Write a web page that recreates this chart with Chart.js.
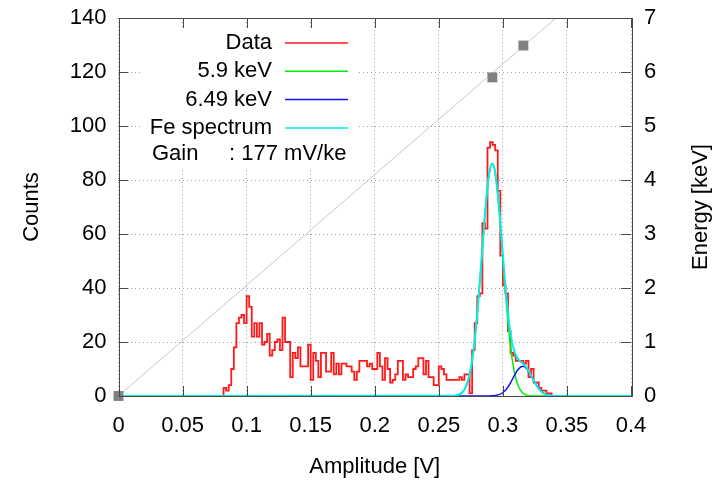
<!DOCTYPE html>
<html>
<head>
<meta charset="utf-8">
<title>Fe-55 spectrum</title>
<script src="https://cdn.jsdelivr.net/npm/chart.js@4.4.1/dist/chart.umd.min.js"></script>
<style>
  html, body { margin: 0; padding: 0; background: #fff; }
  #wrap { width: 714px; height: 482px; }
</style>
</head>
<body>
<div id="wrap"><canvas id="spec" width="714" height="482"></canvas></div>
<script>
// Fe-55 amplitude spectrum with two gaussian fits + energy calibration (gnuplot look).

// histogram: left edge of first filled bin, bin width [V], counts per bin
const HIST_START = 0.082;
const BIN_W = 0.002;
const counts = [
  3, 2, 4, 10, 18, 27, 29, 30, 27, 37,
  33, 22, 27, 22, 27, 19, 20, 23, 15, 17,
  20, 21, 17, 29, 20, 20, 7, 16, 14, 18,
  11, 11, 11, 19, 6, 16, 13, 7, 16, 16,
  9, 9, 16, 8, 12, 8, 12, 12, 11, 11,
  9, 6, 9, 13, 13, 13, 11, 12, 10, 10,
  16, 11, 6, 14, 10, 5, 6, 8, 13, 13,
  6, 8, 7, 7, 10, 11, 14, 14, 8, 13,
  7, 7, 4, 4, 11, 10, 8, 6, 6, 6,
  6, 6, 7, 6, 8, 8, 1, 17, 27, 37,
  38, 64, 62, 92, 94, 93, 91, 76, 52, 41,
  38, 24, 16, 15, 13, 13, 13, 12, 13, 7,
  10, 5, 5, 3, 2, 2, 1, 1,
];

// fitted curves
const fitX   = [0, 0.262, 0.265, 0.268, 0.271, 0.274, 0.277, 0.280, 0.283, 0.286, 0.289, 0.2917, 0.294, 0.297, 0.300, 0.303, 0.306, 0.309, 0.312, 0.3155, 0.318, 0.321, 0.324, 0.327, 0.330, 0.333, 0.336, 0.340, 0.345, 0.4];
const fit59  = [0, 0.1, 0.4, 1.2, 3.3, 7.9, 16.5, 30.4, 48.3, 67.1, 81.3, 86.0, 82.6, 69.4, 50.9, 32.5, 18.1, 8.8, 3.7, 1.1, 0.4, 0.1, 0, 0, 0, 0, 0, 0, 0, 0];
const fit649 = [0, 0, 0, 0, 0, 0, 0, 0, 0, 0, 0, 0.1, 0.2, 0.5, 1.3, 2.7, 4.9, 7.6, 9.9, 11.0, 10.4, 8.4, 5.8, 3.4, 1.7, 0.7, 0.3, 0.05, 0, 0];
const fitFe  = [0, 0.1, 0.4, 1.2, 3.3, 7.9, 16.5, 30.4, 48.3, 67.1, 81.3, 86.1, 82.8, 69.9, 52.2, 35.2, 23.0, 16.4, 13.6, 12.1, 10.8, 8.5, 5.8, 3.4, 1.7, 0.7, 0.3, 0.05, 0, 0];

// energy calibration points (right axis) and the linear fit through them
const calAmp = [0, 0.2918, 0.3160];
const calE = [0, 5.9, 6.49];
const calLineAmp = [0, 0.4];
const calLineE = [0, 8.2];

// axes
const xTicks = [0, 0.05, 0.1, 0.15, 0.2, 0.25, 0.3, 0.35, 0.4];
const xTickLabels = ['0', '0.05', '0.1', '0.15', '0.2', '0.25', '0.3', '0.35', '0.4'];
const yTicks = [0, 20, 40, 60, 80, 100, 120, 140];
const y2Ticks = [0, 1, 2, 3, 4, 5, 6, 7];
const y2Title = 'Energy [keV]';
const keyLabels = ['Data', '5.9 keV', '6.49 keV', 'Fe spectrum'];
const gainText = 'Gain     : 177 mV/ke';

const FAMILY = "'Liberation Sans', Arial, Helvetica, sans-serif";
const FONT = { family: FAMILY, size: 22 };
const FONT_CSS = `22px ${FAMILY}`;
const INK = '#000000';
const FRAME = '#4a4a4a';
const GRID = '#a0a0a0';
const TICK_LEN = 10;

// key geometry (gnuplot "key left top", no box)
const KEY = { textRight: 272, lineFrom: 285, lineTo: 348, firstRow: 43, rowStep: 28.3, gainX: 152 };

const histPts = [{ x: HIST_START - BIN_W, y: 0 }];
counts.forEach((c, i) => histPts.push({ x: HIST_START + i * BIN_W, y: c }));
histPts.push({ x: HIST_START + counts.length * BIN_W, y: 0 });

const pairs = (xs, ys) => xs.map((x, i) => ({ x, y: ys[i] }));

const gnuplotFrame = {
  id: 'gnuplotFrame',
  beforeDatasetsDraw(chart) {
    // key area is opaque: hides the grid behind it
    const ctx = chart.ctx;
    ctx.save();
    ctx.fillStyle = '#ffffff';
    ctx.fillRect(140, 29, 218, 140);
    ctx.restore();
  },
  afterDatasetsDraw(chart) {
    const { ctx, chartArea: a, scales } = chart;
    ctx.save();
    ctx.strokeStyle = FRAME;
    ctx.lineWidth = 1;
    ctx.beginPath();
    // inward tics, mirrored on top
    for (const v of xTicks) {
      const px = Math.round(scales.x.getPixelForValue(v)) + 0.5;
      ctx.moveTo(px, a.bottom); ctx.lineTo(px, a.bottom - TICK_LEN);
      ctx.moveTo(px, a.top); ctx.lineTo(px, a.top + TICK_LEN);
    }
    for (const v of yTicks) {
      const py = Math.round(scales.y.getPixelForValue(v)) + 0.5;
      ctx.moveTo(a.left, py); ctx.lineTo(a.left + TICK_LEN, py);
    }
    for (const v of y2Ticks) {
      const py = Math.round(scales.y2.getPixelForValue(v)) + 0.5;
      ctx.moveTo(a.right, py); ctx.lineTo(a.right - TICK_LEN, py);
    }
    ctx.stroke();
    ctx.strokeRect(Math.round(a.left) + 0.5, Math.round(a.top) + 0.5,
      Math.round(a.right - a.left), Math.round(a.bottom - a.top));

    ctx.font = FONT_CSS;
    ctx.fillStyle = INK;
    ctx.textBaseline = 'middle';

    // right axis title reads bottom-to-top like the left one
    ctx.save();
    ctx.translate(chart.width - 13, (a.top + a.bottom) / 2);
    ctx.rotate(-Math.PI / 2);
    ctx.textAlign = 'center';
    ctx.fillText(y2Title, 0, 0);
    ctx.restore();

    // key
    keyLabels.forEach((lab, i) => {
      const ds = chart.data.datasets.find((d) => d.label === lab);
      const y = KEY.firstRow + i * KEY.rowStep;
      ctx.textAlign = 'right';
      ctx.fillText(lab, KEY.textRight, y);
      ctx.strokeStyle = ds.borderColor;
      ctx.lineWidth = 1.5;
      ctx.beginPath();
      ctx.moveTo(KEY.lineFrom, y);
      ctx.lineTo(KEY.lineTo, y);
      ctx.stroke();
    });
    ctx.textAlign = 'left';
    ctx.fillText(gainText, KEY.gainX, KEY.firstRow + keyLabels.length * KEY.rowStep - 2);
    ctx.restore();
  },
};

const setTicks = (vals) => (s) => { s.ticks = vals.map((v) => ({ value: v })); };
// fixed box size, and no label overhang pushing the plot area around
const fixBox = (w, h) => (s) => {
  if (w != null) s.width = w;
  if (h != null) s.height = h;
  s.paddingTop = 0; s.paddingBottom = 0; s.paddingLeft = 0; s.paddingRight = 0;
};

new Chart(document.getElementById('spec'), {
  type: 'line',
  data: {
    datasets: [
      { label: 'cal points', data: pairs(calAmp, calE), yAxisID: 'y2', showLine: false,
        pointStyle: 'rect', pointRadius: 7, pointBackgroundColor: '#808080', pointBorderWidth: 0, clip: false },
      { label: 'Fe spectrum', data: pairs(fitX, fitFe), borderColor: '#00eeee', borderWidth: 2,
        pointRadius: 0, cubicInterpolationMode: 'monotone' },
      { label: '6.49 keV', data: pairs(fitX, fit649), borderColor: '#1010ff', borderWidth: 1.5,
        pointRadius: 0, cubicInterpolationMode: 'monotone' },
      { label: '5.9 keV', data: pairs(fitX, fit59), borderColor: '#00ee00', borderWidth: 1.5,
        pointRadius: 0, cubicInterpolationMode: 'monotone' },
      { label: 'Data', data: histPts, borderColor: '#ff1a1a', borderWidth: 1.8,
        pointRadius: 0, stepped: true },
      { label: 'cal fit', data: pairs(calLineAmp, calLineE), yAxisID: 'y2', borderColor: '#c8c8c8',
        borderWidth: 1, pointRadius: 0 },
    ],
  },
  options: {
    responsive: false,
    animation: false,
    devicePixelRatio: 1,
    layout: { padding: { top: 18, left: 0, right: 0, bottom: 0 } },
    plugins: { legend: { display: false }, tooltip: { enabled: false } },
    scales: {
      x: {
        type: 'linear', min: 0, max: 0.4,
        afterBuildTicks: setTicks(xTicks),
        afterFit: fixBox(null, 86),
        ticks: { callback: (v, i) => xTickLabels[i], color: INK, font: FONT, padding: 17, maxRotation: 0, autoSkip: false },
        grid: { color: GRID, lineWidth: 1, drawTicks: false },
        border: { display: false, dash: [1, 3] },
        title: { display: true, text: 'Amplitude [V]', color: INK, font: FONT, padding: { top: 0, bottom: 2 } },
      },
      y: {
        position: 'left', min: 0, max: 140,
        afterBuildTicks: setTicks(yTicks),
        afterFit: fixBox(118.5, null),
        ticks: { color: INK, font: FONT, padding: 12 },
        grid: { color: GRID, lineWidth: 1, drawTicks: false },
        border: { display: false, dash: [1, 3] },
        title: { display: true, text: 'Counts', color: INK, font: FONT, padding: { top: 19, bottom: 0 } },
      },
      y2: {
        position: 'right', min: 0, max: 7,
        afterBuildTicks: setTicks(y2Ticks),
        afterFit: fixBox(83, null),
        ticks: { color: INK, font: FONT, padding: 13 },
        grid: { drawOnChartArea: false, drawTicks: false },
        border: { display: false },
      },
    },
  },
  plugins: [gnuplotFrame],
});
</script>
</body>
</html>
